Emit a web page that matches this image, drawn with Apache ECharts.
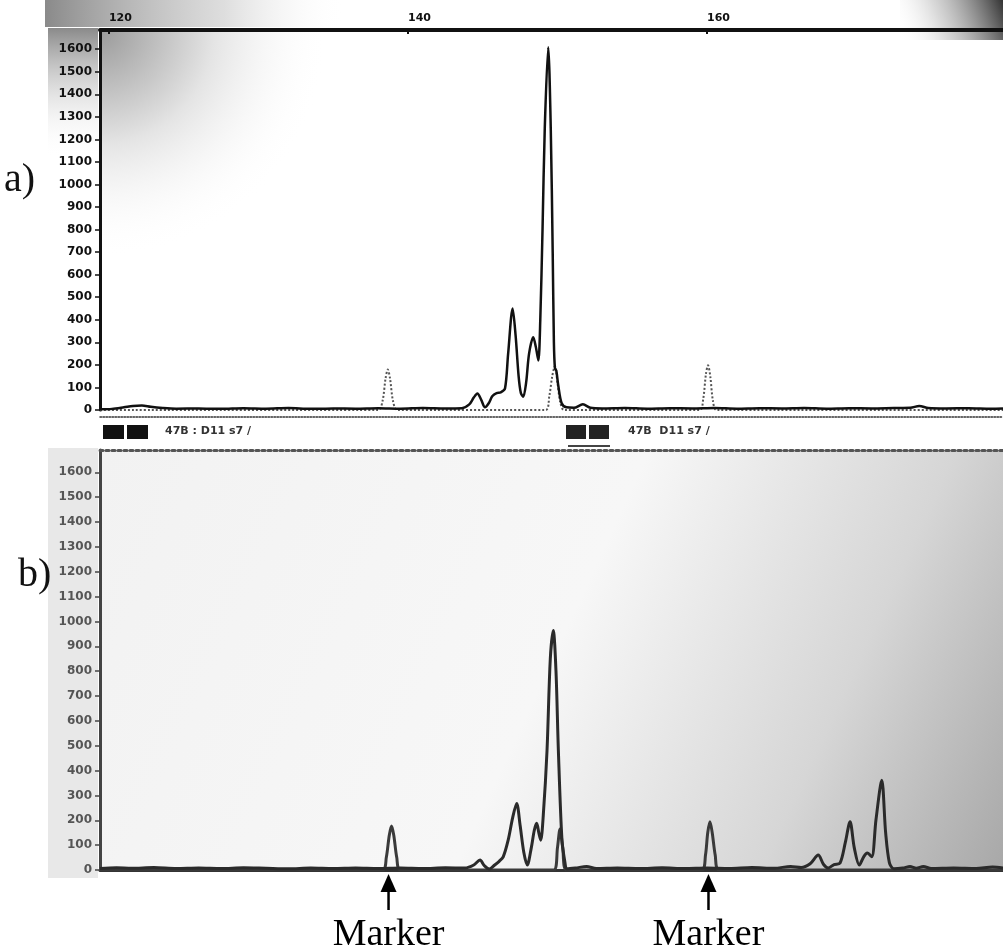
<!DOCTYPE html>
<html lang="en">
<head>
    <meta charset="UTF-8" />
    <title>Electropherogram</title>
    <script src="https://cdn.jsdelivr.net/npm/echarts@6/dist/echarts.min.js"></script>
    <style>
        body { margin: 0; background: #fff; }
    </style>
</head>
<body>
    <div id="main" style="width: 1003px; height: 951px"></div>
    <script>
        // x axis: fragment size (bp), y axis: fluorescence
        const sizeRange = [119.4, 179.8];
        const sizeLabels = [120, 140, 160];
        const arrowSizes = [138.7, 160.1];

        // panel a) sample trace (solid)
        const sampleA = [
            [119.4, 3], [120.2, 5], [121.0, 12], [121.6, 18], [122.2, 20], [122.8, 14], [123.6, 9],
            [124.5, 6], [126, 7], [127.5, 5], [129, 8], [130.5, 6], [132, 9], [133.5, 5], [135, 7],
            [136.5, 6], [138, 8], [139.5, 6], [141, 9], [142.5, 7], [143.6, 8], [144.1, 25],
            [144.4, 55], [144.64, 73], [144.9, 45], [145.15, 12], [145.4, 30], [145.65, 62],
            [145.93, 75], [146.2, 78], [146.49, 95], [146.7, 250], [147.0, 450], [147.2, 330],
            [147.4, 150], [147.55, 75], [147.71, 59], [147.9, 120], [148.1, 250], [148.38, 323],
            [148.55, 280], [148.72, 220], [148.85, 400], [149.0, 800], [149.15, 1250], [149.38, 1608],
            [149.55, 1250], [149.68, 700], [149.76, 300], [149.83, 185], [149.92, 175], [150.05, 110],
            [150.28, 30], [150.6, 12], [151.1, 10], [151.7, 25], [152.2, 10], [153, 7], [154.5, 9],
            [156, 6], [157.5, 8], [159, 7], [160.5, 9], [162, 6], [163.5, 8], [165, 7], [166.5, 9],
            [168, 6], [169.5, 8], [171, 7], [172.5, 9], [173.6, 10], [174.2, 18], [174.8, 9],
            [176, 7], [177.5, 8], [179, 6], [179.8, 7]
        ];

        // panel a) size standard (dotted)
        const markerA = [
            [119.4, 0], [138.0, 0], [138.3, 40], [138.5, 140], [138.65, 180], [138.8, 140], [139.0, 40],
            [139.3, 0], [149.2, 0], [149.45, 60], [149.65, 150], [149.83, 195], [150.0, 120],
            [150.2, 30], [150.45, 0], [159.5, 0], [159.75, 50], [159.93, 160], [160.07, 198],
            [160.22, 150], [160.4, 40], [160.65, 0], [179.8, 0]
        ];

        // panel b) sample trace
        const sampleB = [
            [119.4, 6], [120.5, 9], [121.5, 7], [123, 10], [124.5, 6], [126, 8], [127.5, 6], [129, 9],
            [130.5, 7], [132, 5], [133.5, 8], [135, 6], [136.5, 8], [138, 6], [139.5, 8], [141, 6],
            [142.5, 9], [143.8, 8], [144.4, 20], [144.82, 40], [145.1, 18], [145.44, 4], [145.8, 20],
            [146.1, 35], [146.37, 53], [146.7, 120], [147.0, 210], [147.27, 268], [147.5, 180],
            [147.75, 70], [147.98, 20], [148.25, 90], [148.45, 160], [148.61, 188], [148.75, 150],
            [148.88, 120], [149.05, 220], [149.3, 480], [149.52, 850], [149.72, 964], [149.9, 800],
            [150.06, 480], [150.3, 120], [150.5, 30], [150.62, 5], [151.2, 8], [151.95, 14],
            [152.6, 6], [154, 8], [155.5, 6], [157, 9], [158.5, 6], [160, 8], [161.5, 6], [163, 10],
            [164.5, 7], [165.6, 14], [166.3, 10], [166.9, 25], [167.44, 60], [167.8, 22], [168.11, 8],
            [168.5, 22], [168.9, 28], [169.25, 110], [169.57, 194], [169.85, 90], [170.19, 20],
            [170.5, 55], [170.72, 68], [171.02, 53], [171.3, 200], [171.69, 361], [171.95, 150],
            [172.2, 30], [172.5, 5], [173.1, 8], [173.58, 14], [174.0, 7], [174.47, 14], [175, 6],
            [176.5, 8], [178, 6], [179.1, 12], [179.8, 8]
        ];

        // panel b) size standard
        const markerB = [
            [119.4, 0], [138.3, 0], [138.55, 50], [138.75, 140], [138.9, 177], [139.05, 140],
            [139.25, 50], [139.5, 0], [149.75, 0], [150.0, 90], [150.17, 165], [150.35, 90],
            [150.6, 0], [159.65, 0], [159.9, 60], [160.05, 150], [160.2, 194], [160.35, 150],
            [160.55, 60], [160.8, 0], [179.8, 0]
        ];

        var chart = echarts.init(document.getElementById("main"));

        // plain numbers, no thousands separator
        function plain(v) { return String(v); }

        var yLabelA = { fontFamily: "DejaVu Sans", fontWeight: "bold", fontSize: 12, color: "#111", margin: 8, showMaxLabel: false, formatter: plain };
        var yLabelB = { fontFamily: "DejaVu Sans", fontWeight: "bold", fontSize: 12, color: "#555", margin: 8, showMaxLabel: false, formatter: plain };

        var option = {
            animation: false,
            backgroundColor: "#fff",
            grid: [
                {
                    left: 100, top: 30, right: 0, height: 380, show: true, borderWidth: 0,
                    backgroundColor: {
                        type: "radial", x: 0, y: 0, r: 0.6,
                        colorStops: [
                            { offset: 0, color: "#9a9a9a" },
                            { offset: 0.5, color: "#e4e4e4" },
                            { offset: 1, color: "rgba(255,255,255,0)" }
                        ]
                    }
                },
                {
                    left: 100, top: 450, right: 0, height: 420, show: true, borderWidth: 0,
                    backgroundColor: {
                        type: "linear", x: 0, y: 0, x2: 1, y2: 1,
                        colorStops: [
                            { offset: 0, color: "#f2f2f2" },
                            { offset: 0.5, color: "#f7f7f7" },
                            { offset: 0.78, color: "#d6d6d6" },
                            { offset: 1, color: "#a8a8a8" }
                        ]
                    }
                }
            ],
            xAxis: [
                {
                    // size scale on top of panel a
                    type: "value", gridIndex: 0, position: "top",
                    min: sizeRange[0], max: sizeRange[1],
                    splitLine: { show: false },
                    axisLine: { onZero: false, lineStyle: { color: "#111", width: 4 } },
                    axisTick: { show: true, customValues: sizeLabels, length: 4, inside: true, lineStyle: { color: "#111", width: 2 } },
                    axisLabel: {
                        customValues: sizeLabels, align: "left", margin: 6,
                        fontFamily: "DejaVu Sans", fontWeight: "bold", fontSize: 11, color: "#111"
                    }
                },
                {
                    type: "value", gridIndex: 1, position: "bottom",
                    min: sizeRange[0], max: sizeRange[1],
                    splitLine: { show: false },
                    axisLine: { onZero: false, lineStyle: { color: "#333", width: 3 } },
                    axisTick: { show: false },
                    axisLabel: { show: false }
                },
                {
                    type: "value", gridIndex: 1, position: "top",
                    min: sizeRange[0], max: sizeRange[1],
                    splitLine: { show: false },
                    axisLine: { onZero: false, lineStyle: { color: "#555", width: 3, type: "dotted" } },
                    axisTick: { show: false },
                    axisLabel: { show: false }
                },
                {
                    type: "value", gridIndex: 0, position: "bottom", offset: 7,
                    min: sizeRange[0], max: sizeRange[1],
                    splitLine: { show: false },
                    axisLine: { onZero: false, lineStyle: { color: "#333", width: 1.5, type: "dotted" } },
                    axisTick: { show: false },
                    axisLabel: { show: false }
                }
            ],
            yAxis: [
                {
                    type: "value", gridIndex: 0, min: 0, max: 1685, interval: 100,
                    splitLine: { show: false },
                    axisLine: { show: true, onZero: false, lineStyle: { color: "#111", width: 3 } },
                    axisTick: { show: true, length: 5, lineStyle: { color: "#111", width: 1.5 } },
                    axisLabel: yLabelA
                },
                {
                    type: "value", gridIndex: 1, min: 0, max: 1690, interval: 100,
                    splitLine: { show: false },
                    axisLine: { show: true, onZero: false, lineStyle: { color: "#444", width: 3 } },
                    axisTick: { show: true, length: 5, lineStyle: { color: "#444", width: 1.5 } },
                    axisLabel: yLabelB
                }
            ],
            series: [
                {
                    name: "marker a", type: "line", xAxisIndex: 0, yAxisIndex: 0,
                    data: markerA, showSymbol: false, smooth: 0.3,
                    lineStyle: { color: "#555", width: 2, type: "dotted" }
                },
                {
                    name: "sample a", type: "line", xAxisIndex: 0, yAxisIndex: 0,
                    data: sampleA, showSymbol: false, smooth: 0.3,
                    lineStyle: { color: "#111", width: 2.5 }
                },
                {
                    name: "marker b", type: "line", xAxisIndex: 1, yAxisIndex: 1,
                    data: markerB, showSymbol: false, smooth: 0.3,
                    lineStyle: { color: "#3a3a3a", width: 3 }
                },
                {
                    name: "sample b", type: "line", xAxisIndex: 1, yAxisIndex: 1,
                    data: sampleB, showSymbol: false, smooth: 0.3,
                    lineStyle: { color: "#2a2a2a", width: 3 }
                }
            ]
        };

        chart.setOption(option);

        // decorations, panel letters and the run labels under panel a
        var graphics = [
            {
                type: "rect", silent: true, shape: { x: 45, y: 0, width: 300, height: 27 },
                style: { fill: { type: "linear", x: 0, y: 0, x2: 1, y2: 0, colorStops: [{ offset: 0, color: "#8a8a8a" }, { offset: 0.6, color: "rgba(200,200,200,0.6)" }, { offset: 1, color: "rgba(255,255,255,0)" }] } }
            },
            {
                type: "rect", silent: true, shape: { x: 48, y: 28, width: 50, height: 130 },
                style: { fill: { type: "linear", x: 0, y: 0, x2: 0, y2: 1, colorStops: [{ offset: 0, color: "#8a8a8a" }, { offset: 1, color: "rgba(255,255,255,0)" }] } }
            },
            {
                type: "rect", silent: true, shape: { x: 900, y: 0, width: 103, height: 40 },
                style: { fill: { type: "linear", x: 1, y: 0, x2: 0, y2: 1, colorStops: [{ offset: 0, color: "#333" }, { offset: 0.6, color: "rgba(160,160,160,0.4)" }, { offset: 1, color: "rgba(255,255,255,0)" }] } }
            },
            {
                type: "rect", silent: true, shape: { x: 48, y: 448, width: 50, height: 430 },
                style: { fill: "#e8e8e8" }
            },
            { type: "text", left: 4, top: 160, style: { text: "a)", font: "40px 'Liberation Serif'", fill: "#111" } },
            { type: "text", left: 18, top: 555, style: { text: "b)", font: "40px 'Liberation Serif'", fill: "#111" } },
            { type: "rect", shape: { x: 103, y: 425, width: 21, height: 14 }, style: { fill: "#111" } },
            { type: "rect", shape: { x: 127, y: 425, width: 21, height: 14 }, style: { fill: "#111" } },
            { type: "text", left: 165, top: 426, style: { text: "47B : D11 s7 /", font: "bold 11px 'DejaVu Sans'", fill: "#333" } },
            { type: "rect", shape: { x: 566, y: 425, width: 20, height: 14 }, style: { fill: "#222" } },
            { type: "rect", shape: { x: 589, y: 425, width: 20, height: 14 }, style: { fill: "#222" } },
            { type: "line", shape: { x1: 568, y1: 446, x2: 610, y2: 446 }, style: { stroke: "#444", lineWidth: 2 } },
            { type: "text", left: 628, top: 426, style: { text: "47B  D11 s7 /", font: "bold 11px 'DejaVu Sans'", fill: "#333" } }
        ];

        // arrows and "Marker" labels placed from the b axis scale
        arrowSizes.forEach(function (v) {
            var p = chart.convertToPixel({ xAxisIndex: 1, yAxisIndex: 1 }, [v, 0]);
            var x = p[0], y = p[1];
            graphics.push({
                type: "polygon",
                shape: { points: [[x, y + 4], [x + 8, y + 22], [x - 8, y + 22]] },
                style: { fill: "#000" }
            });
            graphics.push({
                type: "line",
                shape: { x1: x, y1: y + 20, x2: x, y2: y + 40 },
                style: { stroke: "#000", lineWidth: 2.5 }
            });
            graphics.push({
                type: "text", x: x, y: y + 46,
                style: { text: "Marker", font: "38px 'Liberation Serif'", fill: "#000", textAlign: "center", textVerticalAlign: "top" }
            });
        });

        chart.setOption({ graphic: graphics });
    </script>
</body>
</html>
